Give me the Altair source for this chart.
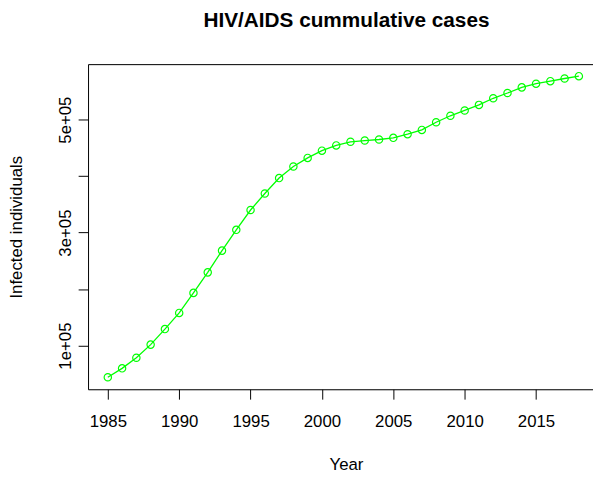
import altair as alt
import pandas as pd

years = [1985, 1986, 1987, 1988, 1989, 1990, 1991, 1992, 1993, 1994,
         1995, 1996, 1997, 1998, 1999, 2000, 2001, 2002, 2003, 2004,
         2005, 2006, 2007, 2008, 2009, 2010, 2011, 2012, 2013, 2014,
         2015, 2016, 2017, 2018]
cases = [44000, 59700, 78500, 101700, 129200, 157800, 193300, 229600, 268100, 304900,
         340000, 369200, 396500, 417000, 432200, 445000, 454300, 460800, 463000, 464800,
         467800, 474200, 481800, 495300, 506800, 516200, 526100, 537800, 547100, 557100,
         563600, 568100, 572800, 576900]
x_ticks = [1985, 1990, 1995, 2000, 2005, 2010, 2015]
y_ticks = [100000, 200000, 300000, 400000, 500000]

df = pd.DataFrame({"Year": years, "Cases": cases})

FONT = "Liberation Sans"
GREEN = "#00FF00"

xscale = alt.Scale(domain=[1983.615, 2018.99], nice=False, zero=False)
yscale = alt.Scale(domain=[22684, 598216], nice=False, zero=False)

x_bottom = alt.X(
    "Year:Q", scale=xscale,
    axis=alt.Axis(values=x_ticks, format="d", title="Year", grid=False,
                  tickSize=10, labelPadding=15, titlePadding=27, titleX=261,
                  labelFontSize=17, titleFontSize=17, titleFontWeight="normal",
                  labelFont=FONT, titleFont=FONT, domainColor="black",
                  tickColor="black", labelColor="black", titleColor="black",
                  labelFlush=False, labelOverlap=False))
x_top = alt.X(
    "Year:Q", scale=xscale,
    axis=alt.Axis(orient="top", labels=False, ticks=False, title=None,
                  grid=False, domainColor="black"))
y_axis = alt.Y(
    "Cases:Q", scale=yscale,
    axis=alt.Axis(values=y_ticks,
                  labelExpr="datum.value % 200000 == 100000 ? format(datum.value/100000,'d') + 'e+05' : ''",
                  title="Infected individuals", grid=False, tickSize=10,
                  labelAngle=270, labelAlign="center", labelBaseline="bottom",
                  labelPadding=4, titlePadding=31,
                  labelFontSize=17, titleFontSize=17, titleFontWeight="normal",
                  labelFont=FONT, titleFont=FONT, domainColor="black",
                  tickColor="black", labelColor="black", titleColor="black",
                  labelOverlap=False))

line = alt.Chart(df).mark_line(color=GREEN, strokeWidth=1.3).encode(x=x_bottom, y=y_axis)
points = alt.Chart(df).mark_point(shape="circle", filled=False, color=GREEN,
                                  size=55, strokeWidth=1.2, opacity=1).encode(x=x_top, y=y_axis)

chart = alt.layer(line, points).resolve_axis(x="independent").properties(
    width=511, height=329,
    title=alt.TitleParams("HIV/AIDS cummulative cases", font=FONT, fontSize=21,
                          fontWeight="bold", anchor="middle", frame="group", offset=17,
                          baseline="alphabetic", dx=6, color="black"),
    autosize=alt.AutoSizeParams(type="none"),
    padding={"left": 81, "top": 54, "right": 0, "bottom": 88},
).configure_view(stroke=None).configure(background="white")

chart.save("out.html", embed_options={"renderer": "svg", "actions": False})
